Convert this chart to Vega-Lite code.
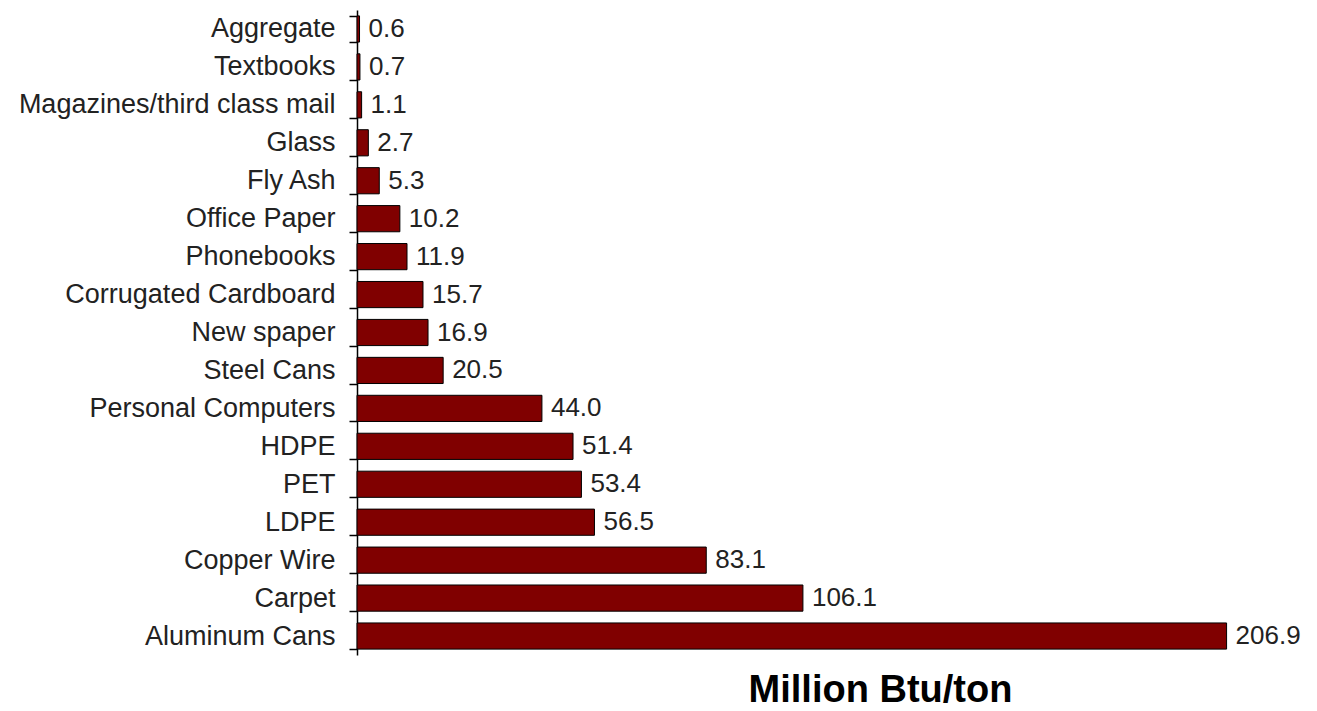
{
  "$schema": "https://vega.github.io/schema/vega-lite/v6.json",
  "autosize": {"type": "none"},
  "padding": {"left": 357, "top": 10, "right": 90, "bottom": 56},
  "width": 870,
  "height": 645,
  "background": "white",
  "config": {
    "view": {"stroke": null},
    "font": "Liberation Sans"
  },
  "data": {
    "values": [
      {"material": "Aggregate", "energy": 0.6},
      {"material": "Textbooks", "energy": 0.7},
      {"material": "Magazines/third class mail", "energy": 1.1},
      {"material": "Glass", "energy": 2.7},
      {"material": "Fly Ash", "energy": 5.3},
      {"material": "Office Paper", "energy": 10.2},
      {"material": "Phonebooks", "energy": 11.9},
      {"material": "Corrugated Cardboard", "energy": 15.7},
      {"material": "New spaper", "energy": 16.9},
      {"material": "Steel Cans", "energy": 20.5},
      {"material": "Personal Computers", "energy": 44.0},
      {"material": "HDPE", "energy": 51.4},
      {"material": "PET", "energy": 53.4},
      {"material": "LDPE", "energy": 56.5},
      {"material": "Copper Wire", "energy": 83.1},
      {"material": "Carpet", "energy": 106.1},
      {"material": "Aluminum Cans", "energy": 206.9}
    ]
  },
  "encoding": {
    "y": {
      "field": "material",
      "type": "nominal",
      "sort": null,
      "scale": {"paddingInner": 0.31, "paddingOuter": 0.155},
      "axis": {
        "title": null,
        "domainColor": "black",
        "domainWidth": 1.5,
        "tickColor": "black",
        "tickWidth": 1.5,
        "tickSize": 8,
        "tickBand": "extent",
        "labelFontSize": 27,
        "labelColor": "#222",
        "labelPadding": 14,
        "labelLimit": 400
      }
    },
    "x": {
      "field": "energy",
      "type": "quantitative",
      "scale": {"domain": [0, 207], "nice": false},
      "axis": {
        "title": "Million Btu/ton",
        "domain": false,
        "ticks": false,
        "labels": false,
        "grid": false,
        "titleFontSize": 38,
        "titleFontWeight": "bold",
        "titleColor": "black",
        "titleX": 523,
        "titleY": 35,
        "titleAlign": "center",
        "titleBaseline": "middle"
      }
    }
  },
  "layer": [
    {
      "mark": {"type": "bar", "color": "#800000", "stroke": "black", "strokeWidth": 1}
    },
    {
      "mark": {"type": "text", "align": "left", "baseline": "middle", "dx": 9, "fontSize": 26, "color": "#222"},
      "encoding": {
        "text": {"field": "energy", "type": "quantitative", "format": ".1f"}
      }
    }
  ]
}
